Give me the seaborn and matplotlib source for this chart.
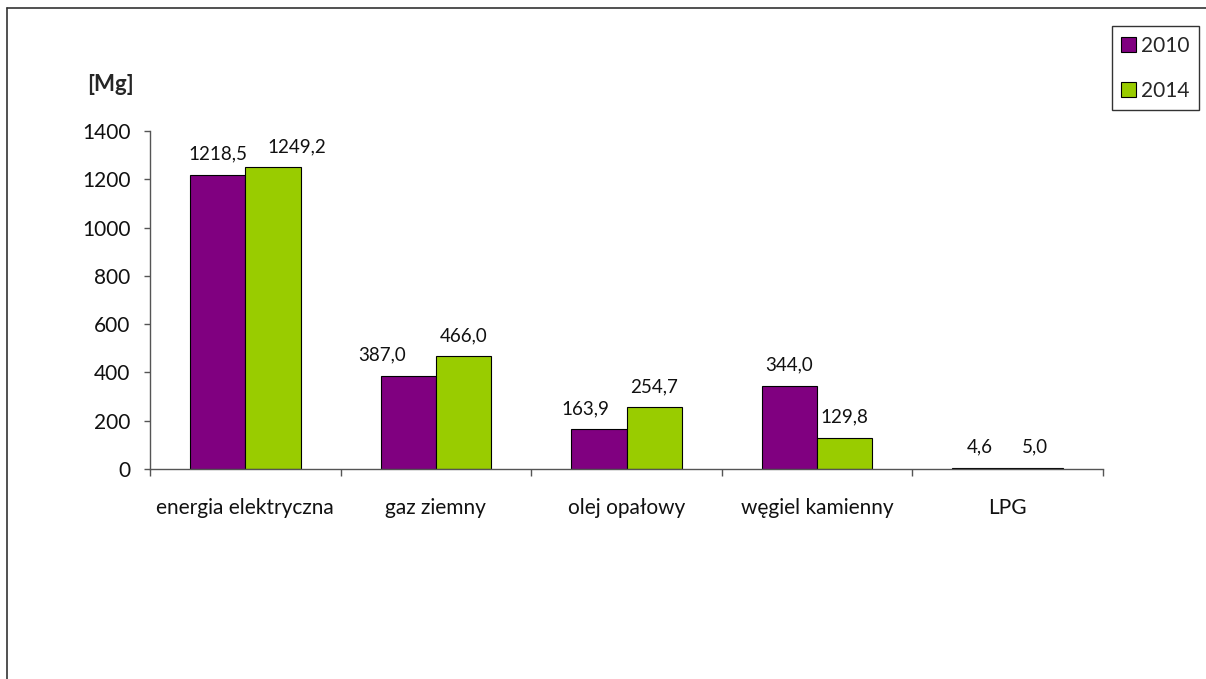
import numpy as np
import pandas as pd
import seaborn as sns
import matplotlib.pyplot as plt
from matplotlib.lines import Line2D

# dane
kategorie = ['energia elektryczna', 'gaz ziemny', 'olej opałowy', 'węgiel kamienny', 'LPG']
lata = ['2010', '2014']
wartosci_2010 = [1218.5, 387.0, 163.9, 344.0, 4.6]
wartosci_2014 = [1249.2, 466.0, 254.7, 129.8, 5.0]
y_ticks = [0, 200, 400, 600, 800, 1000, 1200, 1400]

df = pd.DataFrame({
    'kategoria': kategorie * 2,
    'rok': [lata[0]] * 5 + [lata[1]] * 5,
    'wartosc': wartosci_2010 + wartosci_2014,
})

sns.set_style('ticks')
plt.rcParams['font.family'] = ['Lato', 'DejaVu Sans']

fig = plt.figure(figsize=(12.06, 6.79), dpi=100)
ax = fig.add_axes([0.1244, 0.3093, 0.7902, 0.4978])

sns.barplot(data=df, x='kategoria', y='wartosc', hue='rok', ax=ax,
            palette={'2010': '#800080', '2014': '#99CC00'}, width=0.58,
            saturation=1, edgecolor='black', linewidth=0.8, legend=True)

ax.set_xlim(-0.5, 4.5)
ax.set_ylim(0, 1400)
ax.set_yticks(y_ticks)
ax.set_xlabel('')
ax.set_ylabel('')

# etykiety wartości (przecinek dziesiętny)
przesuniecia = {(0, 1): 17, (1, 0): -19, (2, 0): -10}
for i, cont in enumerate(ax.containers):
    labels = [f'{v:.1f}'.replace('.', ',') for v in cont.datavalues]
    anns = ax.bar_label(cont, labels=labels, padding=9, fontsize=13.5, color='#111111')
    for j, a in enumerate(anns):
        dx = przesuniecia.get((j, i), 0)
        a.xyann = (dx, a.xyann[1])

# osie
sns.despine(ax=ax)
for s in ['left', 'bottom']:
    ax.spines[s].set_color('#555555')
    ax.spines[s].set_linewidth(1)
ax.tick_params(axis='y', length=4, width=1, color='#555555', pad=10, labelsize=15,
               labelcolor='#111111')
ax.tick_params(axis='x', which='major', length=0, pad=21, labelsize=15,
               labelcolor='#111111')
ax.set_xticks(np.arange(-0.5, 5, 1), minor=True)
ax.tick_params(axis='x', which='minor', length=5, width=1, color='#555555')

fig.text(0.092, 0.875, '[Mg]', fontsize=16, fontweight='bold', ha='center', va='center')

# legenda
ax.legend_.remove()
handles, labels = ax.get_legend_handles_labels()
leg = fig.legend(handles, labels, loc='upper left', bbox_to_anchor=(0.922, 0.961),
                 fontsize=15, frameon=True, fancybox=False, edgecolor='black',
                 handlelength=0.7, handleheight=0.7, handletextpad=0.25,
                 labelspacing=1.2, borderpad=0.45, borderaxespad=0)
leg.get_frame().set_linewidth(1)
for h in leg.legend_handles:
    h.set_edgecolor('black')
    h.set_linewidth(0.8)

# ramka wykresu
fig.add_artist(Line2D([0.0058, 1.0], [0.988, 0.988], color='#333333', lw=1.2))
fig.add_artist(Line2D([0.0058, 0.0058], [0.0, 0.988], color='#333333', lw=1.2))

fig.savefig('out.png', dpi=100)
